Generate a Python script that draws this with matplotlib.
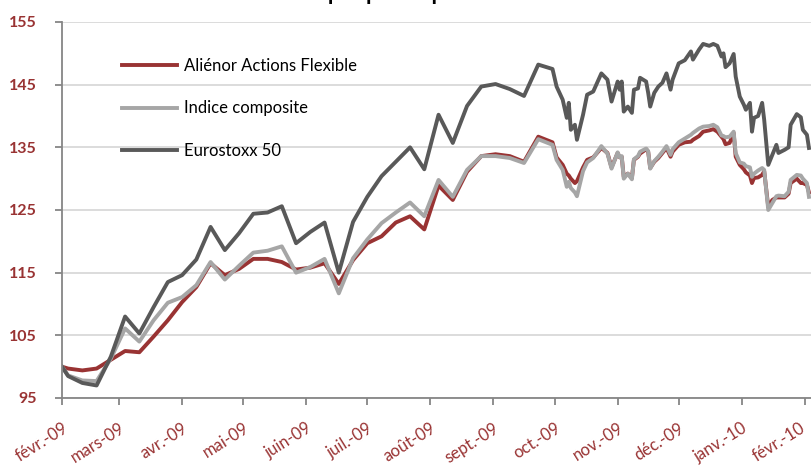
import pandas as pd
import matplotlib
matplotlib.use("Agg")
import matplotlib.pyplot as plt
import matplotlib.transforms as mtransforms

# weekly points until end of September, then (almost) daily
dates = [
    "2009-02-01", "2009-02-04", "2009-02-11", "2009-02-18", "2009-02-25",
    "2009-03-04", "2009-03-11", "2009-03-18", "2009-03-25", "2009-04-01",
    "2009-04-08", "2009-04-15", "2009-04-22", "2009-04-29", "2009-05-06",
    "2009-05-13", "2009-05-20", "2009-05-27", "2009-06-03", "2009-06-10",
    "2009-06-17", "2009-06-24", "2009-07-01", "2009-07-08", "2009-07-15",
    "2009-07-22", "2009-07-29", "2009-08-05", "2009-08-12", "2009-08-19",
    "2009-08-26", "2009-09-02", "2009-09-09", "2009-09-16", "2009-09-23",
    "2009-09-30",
    "2009-10-02", "2009-10-05", "2009-10-07", "2009-10-08", "2009-10-09",
    "2009-10-11", "2009-10-12", "2009-10-15", "2009-10-17", "2009-10-20",
    "2009-10-24", "2009-10-27", "2009-10-29", "2009-11-01", "2009-11-02",
    "2009-11-03", "2009-11-04", "2009-11-06", "2009-11-08", "2009-11-09",
    "2009-11-11", "2009-11-12", "2009-11-15", "2009-11-16", "2009-11-17",
    "2009-11-19", "2009-11-21", "2009-11-23", "2009-11-25", "2009-11-27",
    "2009-11-28", "2009-12-01", "2009-12-04", "2009-12-07", "2009-12-08",
    "2009-12-11", "2009-12-13", "2009-12-16", "2009-12-18", "2009-12-20",
    "2009-12-22", "2009-12-23", "2009-12-24", "2009-12-26", "2009-12-28",
    "2009-12-29", "2009-12-31", "2010-01-02", "2010-01-03", "2010-01-05",
    "2010-01-06", "2010-01-07", "2010-01-09", "2010-01-11", "2010-01-12",
    "2010-01-14", "2010-01-16", "2010-01-18", "2010-01-19", "2010-01-22",
    "2010-01-24", "2010-01-25", "2010-01-28", "2010-01-30", "2010-01-31",
    "2010-02-02", "2010-02-03",
]

alienor = [
    100.0, 99.7, 99.4, 99.7, 101.1, 102.5, 102.3, 104.8, 107.4, 110.3,
    112.7, 116.5, 114.6, 115.6, 117.2, 117.2, 116.7, 115.5, 115.8, 116.5,
    113.2, 117.0, 119.7, 120.8, 123.0, 124.0, 121.9, 128.9, 126.6, 131.1,
    133.6, 133.9, 133.6, 132.7, 136.7, 135.8,
    133.4, 132.2, 130.8, 130.5, 130.0, 129.3, 129.6, 131.8, 133.0, 133.4,
    134.9, 134.1, 131.8, 134.1, 133.4, 133.5, 130.3, 130.8, 130.1, 133.0,
    133.5, 134.0, 134.7, 134.3, 131.7, 132.7, 133.3, 134.1, 134.9, 133.5,
    134.3, 135.4, 135.8, 135.9, 136.2, 136.8, 137.5, 137.7, 137.9, 137.5,
    136.7, 136.3, 135.5, 135.7, 137.3, 133.5, 132.2, 131.5, 131.0, 130.5,
    129.3, 130.1, 130.2, 130.6, 131.2, 125.5, 126.6, 127.0, 127.0, 127.0,
    127.6, 129.3, 130.0, 129.3, 129.3, 129.0, 127.8,
]

composite = [
    100.0, 98.6, 97.8, 97.7, 101.3, 106.1, 104.0, 107.4, 110.2, 111.1,
    113.0, 116.7, 113.9, 116.1, 118.2, 118.5, 119.2, 115.0, 115.9, 117.2,
    111.7, 117.3, 120.3, 122.9, 124.6, 126.2, 124.0, 129.8, 127.1, 131.4,
    133.6, 133.6, 133.3, 132.5, 136.3, 135.4,
    133.0, 131.4, 128.7, 129.5, 128.5, 127.8, 127.2, 131.2, 132.6, 133.3,
    135.2, 134.0, 131.6, 134.2, 133.4, 133.6, 130.0, 130.8, 129.9, 133.1,
    133.6, 134.3, 134.8, 134.4, 131.6, 132.8, 133.5, 134.3, 135.2, 133.8,
    134.7, 135.8, 136.4, 137.0, 137.3, 138.0, 138.3, 138.4, 138.6, 138.2,
    136.9, 136.8, 136.6, 136.7, 137.5, 134.1, 132.6, 132.4, 132.0, 131.8,
    130.3, 130.8, 131.3, 131.7, 131.4, 125.0, 126.1, 127.2, 127.3, 127.2,
    127.9, 129.8, 130.6, 130.5, 130.0, 129.3, 127.1,
]

eurostoxx = [
    100.0, 98.5, 97.4, 97.0, 101.6, 108.0, 105.3, 109.5, 113.5, 114.6,
    117.1, 122.3, 118.6, 121.3, 124.4, 124.6, 125.6, 119.7, 121.5, 123.0,
    115.0, 123.1, 127.1, 130.4, 132.7, 135.0, 131.5, 140.2, 135.7, 141.6,
    144.7, 145.1, 144.3, 143.2, 148.2, 147.5,
    144.7, 142.6, 139.7, 142.1, 137.8, 138.6, 136.2, 140.2, 143.4, 143.9,
    146.8, 145.8, 142.3, 145.5, 144.2, 145.5, 140.7, 141.5, 140.5, 144.2,
    144.4, 146.1, 145.5, 143.7, 141.5, 143.7, 144.7, 145.3, 146.8, 144.2,
    145.8, 148.4, 148.9, 150.3, 149.0, 150.6, 151.5, 151.2, 151.5, 151.2,
    149.5, 150.0, 147.8, 148.4, 149.9, 146.3, 143.1, 141.8, 141.0, 142.1,
    137.5, 139.7, 140.0, 142.1, 139.4, 132.2, 133.8, 135.4, 134.1, 134.6,
    135.0, 138.6, 140.3, 139.8, 137.8, 137.0, 134.9,
]

month_labels = ["févr.-09", "mars-09", "avr.-09", "mai-09", "juin-09", "juil.-09",
                "août-09", "sept.-09", "oct.-09", "nov.-09", "déc.-09", "janv.-10",
                "févr.-10"]

plt.rcParams["font.family"] = ["Lato", "DejaVu Sans"]

dark_red = "#993333"
x = pd.to_datetime(dates)

fig = plt.figure(figsize=(8.11, 4.67), dpi=100)
ax = fig.add_axes([62 / 811, 1 - 398 / 467, (811 - 62) / 811, (398 - 22) / 467])

ax.plot(x, alienor, color="#993333", lw=2.8, solid_joinstyle="round",
        label="Aliénor Actions Flexible")
ax.plot(x, composite, color="#A6A6A6", lw=2.8, solid_joinstyle="round",
        label="Indice composite")
ax.plot(x, eurostoxx, color="#595959", lw=2.8, solid_joinstyle="round",
        label="Eurostoxx 50")

ax.set_ylim(95, 155)
ax.set_yticks(range(95, 156, 10))
ax.set_xlim(pd.Timestamp("2009-02-01"), pd.Timestamp("2010-02-04"))
ax.set_xticks(pd.date_range("2009-02-01", "2010-02-01", freq="MS"))
ax.set_xticklabels(month_labels, rotation=32, ha="right", va="top",
                   rotation_mode="anchor")

ax.grid(axis="y", color="#D9D9D9", lw=1.3)
ax.set_axisbelow(True)
for side in ["top", "right"]:
    ax.spines[side].set_visible(False)
for side in ["left", "bottom"]:
    ax.spines[side].set_color("#868686")
    ax.spines[side].set_linewidth(1.3)

ax.tick_params(axis="y", colors="#868686", labelcolor=dark_red, length=5,
               width=1.3, pad=13, labelsize=11.5)
ax.tick_params(axis="x", colors="#868686", labelcolor=dark_red, length=5,
               width=1.3, pad=11, labelsize=12)
for lbl in ax.get_yticklabels():
    lbl.set_fontweight("bold")

# nudge the last month label so it stays inside the picture
last = ax.get_xticklabels()[-1]
last.set_transform(last.get_transform() +
                   mtransforms.ScaledTranslation(-5 / 100, 0, fig.dpi_scale_trans))

ax.legend(loc="upper left", bbox_to_anchor=(0.08, 0.905), frameon=False,
          fontsize=12, handlelength=3.3, handletextpad=0.4, labelspacing=1.6,
          borderpad=0, borderaxespad=0)

fig.text(0.524, 0.999, "Graphique de performance", ha="center", va="baseline",
         fontsize=16, fontweight="bold")

fig.savefig("out.png", dpi=100)
